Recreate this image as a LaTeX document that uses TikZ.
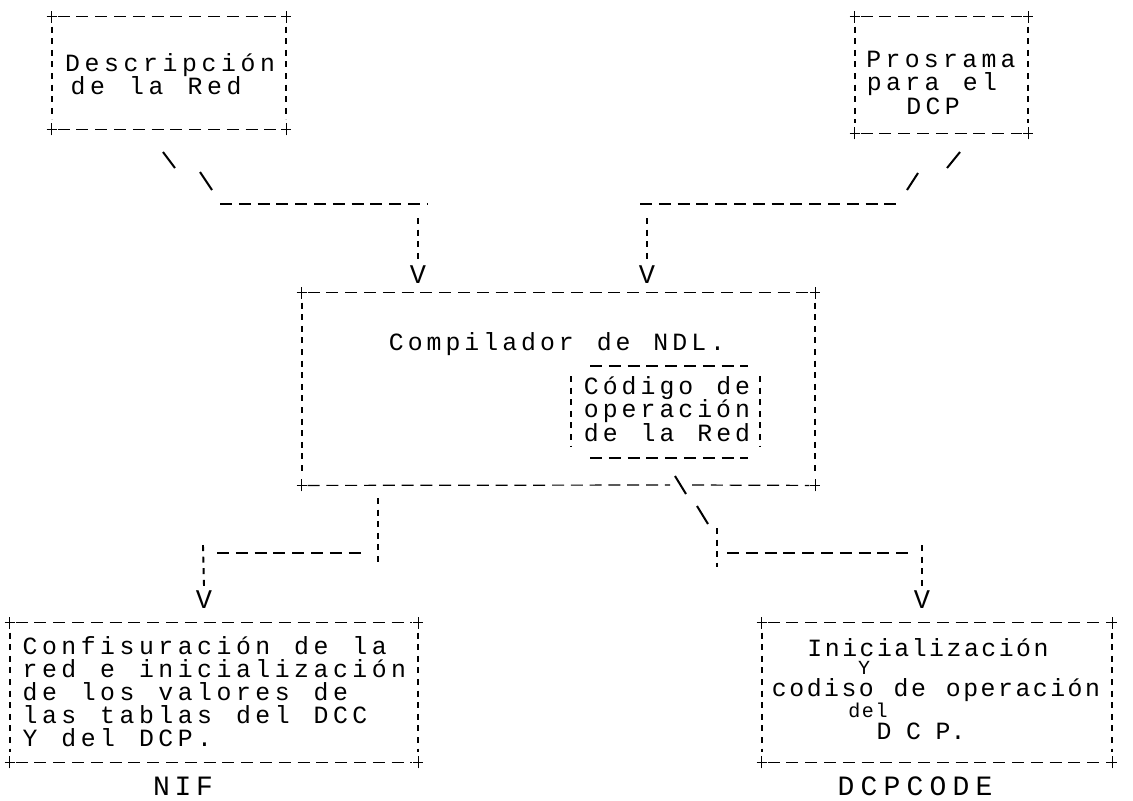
\documentclass[tikz,border=0pt]{standalone}
\usepackage{fontspec}
\newfontfamily\dotfont{Liberation Mono}
\usetikzlibrary{fit}

\ExplSyntaxOn
\dim_new:N \l_dm_pitch_dim
\NewDocumentCommand\dottext{O{9.6pt}m}
  {
    \dim_set:Nn \l_dm_pitch_dim {#1}
    \str_map_inline:nn {#2} { \makebox[\l_dm_pitch_dim][c]{##1} }
  }
\ExplSyntaxOff

\tikzset{
  hd/.style={line width=0.6pt, dash pattern=on 6pt off 3.4pt},
  vd/.style={line width=0.95pt, dash pattern=on 3pt off 2.8pt},
  stroke/.style={line width=1pt},
  corner/.style={line width=0.7pt},
  txt/.style={inner sep=0pt, anchor=base, font=\dotfont\fontsize{12.4pt}{13pt}\selectfont},
  smalltxt/.style={txt, font=\dotfont\fontsize{10pt}{11pt}\selectfont},
  lbl/.style={txt, font=\dotfont\fontsize{14pt}{15pt}\selectfont},
  tipnode/.style={inner sep=0pt, font=\dotfont\fontsize{13.5pt}{14pt}\selectfont},
  boxfit/.style={inner sep=0pt, draw=none}
}

% name, x1, y1, x2, y2
\newcommand\asciibox[5]{%
  \node[boxfit, fit={(#2,#3) (#4,#5)}] (#1) {};
  \draw[hd] ([xshift=3pt]#1.north west) -- ([xshift=-3pt]#1.north east);
  \draw[hd] ([xshift=3pt]#1.south west) -- ([xshift=-3pt]#1.south east);
  \draw[vd] ([yshift=-5pt]#1.north west) -- ([yshift=5pt]#1.south west);
  \draw[vd] ([yshift=-5pt]#1.north east) -- ([yshift=5pt]#1.south east);
  \foreach \cn in {north west,north east,south west,south east}
    \draw[corner] ([xshift=-2.5pt]#1.\cn) -- ([xshift=2.5pt]#1.\cn)
                  ([yshift=-3pt]#1.\cn) -- ([yshift=3pt]#1.\cn);
}

\begin{document}
\begin{tikzpicture}[x=0.5pt,y=-0.5pt]
\useasboundingbox (0,0) rectangle (1133,800);

% ---------- top boxes ----------
\asciibox{A}{52}{17}{286}{129}
\node[txt] (tA1) at (170,71) {\dottext[9.75pt]{Descripción}};
\node[txt] (tA2) at (156,94) {\dottext[9.75pt]{de la Red}};

\asciibox{B}{855}{17}{1028}{133}
\node[txt] (tB1) at (941,67) {\dottext{Prosrama}};
\node[txt] (tB2) at (932,90) {\dottext{para el}};
\node[txt] (tB3) at (933,114) {\dottext{DCP}};

% ---------- big box ----------
\node[boxfit, fit={(302,293) (815,485)}] (C) {};
\draw[hd] ([xshift=3pt]C.north west) -- ([xshift=-3pt]C.north east);
\coordinate (Cg1) at (670,485);
\coordinate (Cg2) at (692,485);
\draw[hd] ([xshift=3pt]C.south west) -- (Cg1);
\draw[hd] (Cg2) -- ([xshift=-3pt]C.south east);
\draw[vd] ([yshift=-5pt]C.north west) -- ([yshift=5pt]C.south west);
\draw[vd] ([yshift=-5pt]C.north east) -- ([yshift=5pt]C.south east);
\foreach \cn in {north west,north east,south west,south east}
  \draw[corner] ([xshift=-2.5pt]C.\cn) -- ([xshift=2.5pt]C.\cn)
                ([yshift=-3pt]C.\cn) -- ([yshift=3pt]C.\cn);
\node[txt] (tC1) at (557,350) {\dottext[9.45pt]{Compilador de NDL.}};

% inner block
\coordinate (Ia) at (590,366); \coordinate (Ib) at (748,366);
\coordinate (Ic) at (590,458); \coordinate (Id) at (748,458);
\coordinate (Ie) at (571,376); \coordinate (If) at (571,447);
\coordinate (Ig) at (760,376); \coordinate (Ih) at (760,447);
\draw[hd] (Ia) -- (Ib);
\draw[hd] (Ic) -- (Id);
\draw[vd] (Ie) -- (If);
\draw[vd] (Ig) -- (Ih);
\node[txt] (tI1) at (667,394) {\dottext[9.45pt]{Código de}};
\node[txt] (tI2) at (667,417) {\dottext[9.45pt]{operación}};
\node[txt] (tI3) at (667,441) {\dottext[9.45pt]{de la Red}};

% ---------- bottom boxes ----------
\asciibox{D}{10}{623}{418}{762}
\node[txt, anchor=base west] (tD1) at (20,654) {\dottext[9.7pt]{Confisuración de la}};
\node[txt, anchor=base west] (tD2) at (20,677) {\dottext[9.7pt]{red e inicialización}};
\node[txt, anchor=base west] (tD3) at (20,700) {\dottext[9.7pt]{de los valores de}};
\node[txt, anchor=base west] (tD4) at (20,723) {\dottext[9.7pt]{las tablas del DCC}};
\node[txt, anchor=base west] (tD5) at (20,746) {\dottext[9.7pt]{Y del DCP.}};
\node[lbl] (nif) at (183,795) {\dottext[10.75pt]{NIF}};

\asciibox{E}{762}{623}{1112}{762}
\node[txt] (tE1) at (928,656) {\dottext[8.7pt]{Inicialización}};
\node[smalltxt] (tE2) at (864,674) {\dottext[6pt]{Y}};
\node[txt] (tE3) at (936,696) {\dottext[8.7pt]{codiso de operación}};
\node[smalltxt] (tE4) at (868,717) {\dottext[6.8pt]{del}};
\node[txt] (tE5) at (921,739) {\dottext[7.4pt]{D C P.}};
\node[lbl] (dcpc) at (915,795) {\dottext[11.5pt]{DCPCODE}};

% ---------- arrow heads (V) ----------
\node[tipnode] (VA) at (418,275) {V};
\node[tipnode] (VB) at (647,275) {V};
\node[tipnode] (VC) at (204,600) {V};
\node[tipnode] (VD) at (922,600) {V};

% ---------- connectors: top left ----------
\coordinate (a1) at (163,152); \coordinate (a2) at (175,168);
\coordinate (a3) at (200,172); \coordinate (a4) at (212,190);
\coordinate (a5) at (220,204); \coordinate (a6) at (428,204);
\coordinate (a7) at (418,218);
\draw[stroke] (a1) -- (a2);
\draw[stroke] (a3) -- (a4);
\draw[hd] (a5) -- (a6);
\draw[vd] (a7) -- ([yshift=2pt]VA.north);

% ---------- connectors: top right ----------
\coordinate (b1) at (960,152); \coordinate (b2) at (947,168);
\coordinate (b3) at (918,173); \coordinate (b4) at (907,190);
\coordinate (b5) at (640,204); \coordinate (b6) at (900,204);
\coordinate (b7) at (647,218);
\draw[stroke] (b1) -- (b2);
\draw[stroke] (b3) -- (b4);
\draw[hd] (b5) -- (b6);
\draw[vd] (b7) -- ([yshift=2pt]VB.north);

% ---------- connectors: below, left ----------
\coordinate (c1) at (378,498); \coordinate (c2) at (378,562);
\coordinate (c3) at (217,553); \coordinate (c4) at (367,553);
\coordinate (c5) at (203,545);
\draw[vd] (c1) -- (c2);
\draw[hd] (c3) -- (c4);
\draw[vd] (c5) -- ([yshift=2pt]VC.north);

% ---------- connectors: below, right ----------
\coordinate (d1) at (675,476); \coordinate (d2) at (686,494);
\coordinate (d3) at (697,506); \coordinate (d4) at (708,524);
\coordinate (d5) at (717,528); \coordinate (d6) at (717,567);
\coordinate (d7) at (727,553); \coordinate (d8) at (910,553);
\coordinate (d9) at (922,545);
\draw[stroke] (d1) -- (d2);
\draw[stroke] (d3) -- (d4);
\draw[vd] (d5) -- (d6);
\draw[hd] (d7) -- (d8);
\draw[vd] (d9) -- ([yshift=2pt]VD.north);

\end{tikzpicture}
\end{document}
